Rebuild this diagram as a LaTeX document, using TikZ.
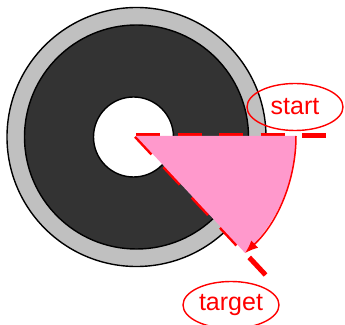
\documentclass[tikz,border=0pt]{standalone}
\usepackage{fontspec}
\setmainfont{Liberation Sans}
\usetikzlibrary{shapes.geometric,arrows.meta,calc}
\definecolor{ringgray}{HTML}{C0C0C0}
\definecolor{darkdisc}{HTML}{333333}
\definecolor{sectorpink}{HTML}{FF99CC}
\tikzset{
  ringline/.style={draw=black, line width=1.4pt},
  guideline/.style={draw=red, line width=5pt, dash pattern=on 24pt off 17.5pt},
  labelell/.style={ellipse, draw=red, line width=1.4pt, text=red, minimum width=96pt, minimum height=47pt, inner sep=0pt, font=\fontsize{25}{29}\selectfont},
}
\begin{document}
\begin{tikzpicture}[x=1pt,y=1pt]
\useasboundingbox (0,0) rectangle (345,324);
\coordinate (disc) at (136.5,187);
\coordinate (hole) at (133.5,187);
\coordinate (c) at (136,188);
% disc
\fill[ringgray] (disc) circle (129.5);
\draw[ringline] (disc) circle (129.5);
\filldraw[fill=darkdisc, ringline] (disc) circle (112);
\filldraw[fill=white, ringline] (hole) circle (40);
% guide lines
\coordinate (hend) at ($(c)+(0:191)$);
\coordinate (dend) at ($(c)+(-47:190)$);
\draw[guideline] (c) -- (hend);
\draw[guideline] (c) -- (dend);
% sector
\fill[sectorpink] (c) -- ($(c)+(0:160)$) arc (0:-47:160) -- cycle;
\draw[red, line width=1.5pt, -{Latex[length=13pt,width=10pt]}] ($(c)+(0:160)$) arc (0:-47:160);
% labels
\node[labelell] (start) at (295,217) {start};
\node[labelell] (target) at (231,19) {target};
\end{tikzpicture}
\end{document}
